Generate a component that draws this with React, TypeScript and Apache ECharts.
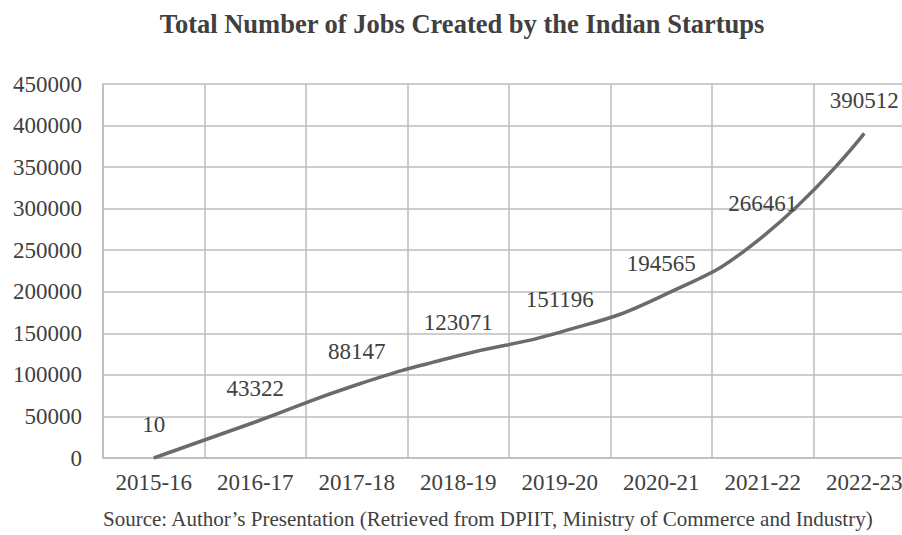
import React, { useEffect, useRef } from "react";
import * as echarts from "echarts";

const categories = ["2015-16", "2016-17", "2017-18", "2018-19", "2019-20", "2020-21", "2021-22", "2022-23"];
const jobs = [10, 43322, 88147, 123071, 151196, 194565, 266461, 390512];
const yTicks = { min: 0, max: 450000, interval: 50000 };

const titleText = "Total Number of Jobs Created by the Indian Startups";
const sourceText = "Source: Author\u2019s Presentation (Retrieved from DPIIT, Ministry of Commerce and Industry)";

const FONT = "Liberation Serif";
const TEXT = "#404040";
const GRID = "#bcbcc0";

export default function App() {
  const ref = useRef<HTMLDivElement>(null);
  useEffect(() => {
    document.body.style.margin = "0";
    document.body.style.overflow = "hidden";
    if (!ref.current) return;
    const chart = echarts.init(ref.current, undefined, { renderer: "svg" });
    const txt = { fontFamily: FONT, fontSize: 23, color: TEXT };
    chart.setOption({
      animation: false,
      backgroundColor: "#ffffff",
      textStyle: { fontFamily: FONT },
      title: {
        text: titleText,
        left: 457,
        textAlign: "center",
        top: 5,
        textStyle: { fontFamily: FONT, fontSize: 26.5, fontWeight: "bold", color: TEXT },
      },
      graphic: [
        {
          type: "text",
          left: 103,
          top: 508,
          style: { text: sourceText, font: `21px ${FONT}`, fill: TEXT },
        },
      ],
      grid: { left: 103, top: 84, width: 812, height: 374, containLabel: false },
      xAxis: {
        type: "category",
        data: categories,
        boundaryGap: true,
        axisLine: { show: true, lineStyle: { color: GRID, width: 1.5 } },
        axisTick: { show: false },
        splitLine: { show: true, lineStyle: { color: GRID, width: 1.5 } },
        axisLabel: { ...txt, margin: 13, interval: 0 },
      },
      yAxis: {
        type: "value",
        min: yTicks.min,
        max: yTicks.max,
        interval: yTicks.interval,
        axisLine: { show: true, lineStyle: { color: GRID, width: 1.5 } },
        axisTick: { show: false },
        splitLine: { show: true, lineStyle: { color: GRID, width: 1.5 } },
        axisLabel: { ...txt, margin: 21, formatter: (v: number) => String(v) },
      },
      series: [
        {
          type: "line",
          data: jobs,
          smooth: true,
          symbol: "circle",
          symbolSize: 1,
          showSymbol: true,
          itemStyle: { color: "rgba(0,0,0,0)" },
          lineStyle: { color: "#6b6b6b", width: 3.5 },
          label: { show: true, position: "top", distance: 21, ...txt },
          labelLayout: { hideOverlap: false },
        },
      ],
    });
    return () => chart.dispose();
  }, []);
  return (
    <div style={{ width: 902, height: 535, overflow: "hidden", position: "relative" }}>
      <div ref={ref} style={{ width: 915, height: 535 }} />
    </div>
  );
}
